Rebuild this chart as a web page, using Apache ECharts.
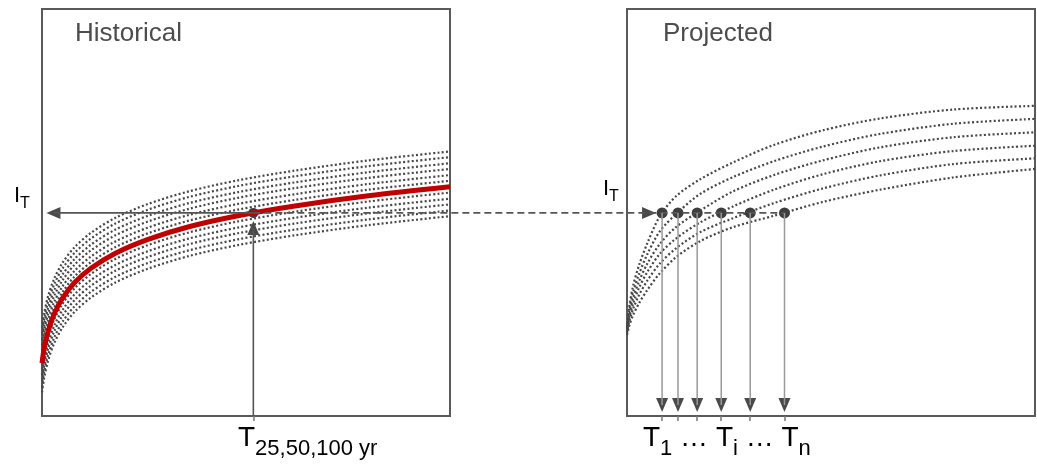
<!DOCTYPE html>
<html>
<head>
<meta charset="utf-8">
<title>Historical vs projected</title>
<script src="https://cdn.jsdelivr.net/npm/echarts@6/dist/echarts.min.js"></script>
<style>
  html, body { margin: 0; padding: 0; background: #fff; }
  #chart { width: 1037px; height: 465px; }
</style>
</head>
<body>
<div id="chart"></div>
<script>
// --- historical panel (return period 0-100 vs intensity 0-100) ---
var histX = [0, 0.5, 1.5, 3, 5, 8, 12, 18, 26, 36, 48, 62, 80, 100];
var histRed = [13.0, 16.4, 20.8, 25.1, 28.9, 32.8, 36.3, 40.0, 43.4, 46.5, 49.2, 51.6, 54.1, 56.3];
var histDotted = [
  [21.7, 25.1, 29.5, 33.8, 37.6, 41.5, 45.0, 48.7, 52.1, 55.2, 57.9, 60.3, 62.8, 65.0],
  [20.3, 23.7, 28.1, 32.4, 36.2, 40.1, 43.6, 47.3, 50.7, 53.8, 56.5, 58.9, 61.4, 63.6],
  [18.8, 22.2, 26.6, 30.9, 34.7, 38.6, 42.1, 45.8, 49.2, 52.3, 55.0, 57.4, 59.9, 62.1],
  [17.4, 20.8, 25.2, 29.5, 33.3, 37.2, 40.7, 44.4, 47.8, 50.9, 53.6, 56.0, 58.5, 60.7],
  [15.9, 19.3, 23.7, 28.0, 31.8, 35.7, 39.2, 42.9, 46.3, 49.4, 52.1, 54.5, 57.0, 59.2],
  [14.5, 17.9, 22.3, 26.6, 30.4, 34.3, 37.8, 41.5, 44.9, 48.0, 50.7, 53.1, 55.6, 57.8],
  [11.6, 15.0, 19.4, 23.7, 27.5, 31.4, 34.9, 38.6, 42.0, 45.1, 47.8, 50.2, 52.7, 54.9],
  [10.1, 13.5, 17.9, 22.2, 26.0, 29.9, 33.4, 37.1, 40.5, 43.6, 46.3, 48.7, 51.2, 53.4],
  [8.7, 12.1, 16.5, 20.8, 24.6, 28.5, 32.0, 35.7, 39.1, 42.2, 44.9, 47.3, 49.8, 52.0],
  [7.2, 10.6, 15.0, 19.3, 23.1, 27.0, 30.5, 34.2, 37.6, 40.7, 43.4, 45.8, 48.3, 50.5],
  [5.8, 9.2, 13.6, 17.9, 21.7, 25.6, 29.1, 32.8, 36.2, 39.3, 42.0, 44.4, 46.9, 49.1]
];
var histT = 51.8;   // T 25,50,100 yr
var levelI = 49.9;  // I_T

// --- projected panel ---
var projX = [0, 0.5, 1.5, 3, 5, 8, 12, 18, 26, 36, 48, 62, 80, 100];
var projDotted = [
  [21.6, 26.5, 32.0, 37.2, 42.5, 49.0, 54.0, 58.2, 62.3, 66.6, 70.2, 73.1, 75.3, 76.2],
  [21.3, 25.6, 30.4, 35.0, 39.8, 45.3, 49.6, 54.6, 58.7, 62.6, 66.2, 69.3, 71.8, 73.0],
  [21.0, 24.6, 28.9, 33.2, 37.5, 42.2, 46.4, 50.5, 55.2, 59.2, 62.8, 66.0, 68.5, 69.7],
  [20.7, 23.8, 27.6, 31.6, 35.4, 39.8, 43.6, 47.6, 51.5, 55.6, 59.4, 62.6, 65.1, 66.4],
  [20.3, 23.0, 26.3, 29.8, 33.3, 37.4, 41.2, 45.2, 48.6, 52.3, 55.9, 59.1, 61.9, 63.3],
  [19.9, 22.0, 24.8, 27.8, 31.0, 35.0, 39.0, 43.0, 46.4, 49.2, 52.6, 55.6, 58.6, 60.7]
];
var projT = [8.6, 12.5, 17.2, 23.1, 30.2, 38.6]; // T1 ... Ti ... Tn

// layout
var GRID_TOP = 9, GRID_H = 407, GRID_W = 408;
var LEFT_L = 42, RIGHT_L = 627, FULL_W = 993;
var shift = (RIGHT_L - LEFT_L) / GRID_W * 100;   // right panel origin in left-panel units
var fullMax = FULL_W / GRID_W * 100;             // overlay axis, same scale as the panels
var headLeftX = 2.8, headUpY = 46.2, headRightX = 5.4, headDownY = 2.7;

var ink = '#474747';
var dotStyle = { color: ink, width: 2.2, type: [2, 2.3] };

function zip(xs, ys) {
  return xs.map(function (x, i) { return [x, ys[i]]; });
}

var chartInstance = echarts.init(document.getElementById('chart'), null, { renderer: 'canvas' });

var series = [];
histDotted.forEach(function (arr) {
  series.push({
    type: 'line', xAxisIndex: 0, yAxisIndex: 0, data: zip(histX, arr),
    smooth: 0.3, symbol: 'none', silent: true, lineStyle: dotStyle
  });
});
series.push({
  type: 'line', xAxisIndex: 0, yAxisIndex: 0, data: zip(histX, histRed),
  smooth: 0.3, symbol: 'none', silent: true,
  lineStyle: { color: '#c00000', width: 5 }
});
projDotted.forEach(function (arr) {
  series.push({
    type: 'line', xAxisIndex: 1, yAxisIndex: 1, data: zip(projX, arr),
    smooth: 0.3, symbol: 'none', silent: true, lineStyle: dotStyle
  });
});
// arrow shafts
series.push({
  type: 'line', xAxisIndex: 0, yAxisIndex: 0, symbol: 'none', silent: true,
  data: [[histT, levelI], [headLeftX, levelI]],
  lineStyle: { color: '#555', width: 1.6 }
});
series.push({
  type: 'line', xAxisIndex: 0, yAxisIndex: 0, symbol: 'none', silent: true,
  data: [[histT, 0], [histT, headUpY]],
  lineStyle: { color: '#555', width: 1.6 }
});
// dashed connector, drawn on the overlay grid that spans both panels
series.push({
  type: 'line', xAxisIndex: 2, yAxisIndex: 2, symbol: 'none', silent: true,
  data: [[histT, levelI], [shift + projT[projT.length - 1], levelI]],
  lineStyle: { color: '#555', width: 1.6, type: [7, 4] }
});
projT.forEach(function (t) {
  series.push({
    type: 'line', xAxisIndex: 1, yAxisIndex: 1, symbol: 'none', silent: true,
    data: [[t, levelI], [t, headDownY]],
    lineStyle: { color: '#999', width: 1.5 }
  });
});
// arrow heads
function heads(xi, pts, rot) {
  return {
    type: 'scatter', xAxisIndex: xi, yAxisIndex: xi, data: pts, silent: true,
    symbol: 'triangle', symbolSize: [12, 14], symbolRotate: rot,
    itemStyle: { color: '#4a4a4a', opacity: 1 }
  };
}
series.push(heads(0, [[headLeftX, levelI]], 90));
series.push(heads(0, [[histT, headUpY]], 0));
series.push(heads(1, [[headRightX, levelI]], -90));
series.push(heads(1, projT.map(function (t) { return [t, headDownY]; }), 180));
// intersection points
series.push({
  type: 'scatter', xAxisIndex: 0, yAxisIndex: 0, data: [[histT, levelI]], silent: true,
  symbolSize: 10, itemStyle: { color: '#3d3d3d', opacity: 1 }
});
series.push({
  type: 'scatter', xAxisIndex: 1, yAxisIndex: 1, silent: true,
  data: projT.map(function (t) { return [t, levelI]; }),
  symbolSize: 11, itemStyle: { color: '#3d3d3d', opacity: 1 }
});

function xAxisFor(idx, ticks) {
  return {
    type: 'value', gridIndex: idx, min: 0, max: 100,
    axisLine: { show: false, onZero: false },
    splitLine: { show: false },
    axisLabel: { show: false },
    axisTick: { show: true, customValues: ticks, length: 5, lineStyle: { color: '#777', width: 1.5 } }
  };
}
function yAxisFor(idx) {
  return { type: 'value', gridIndex: idx, min: 0, max: 100, show: false };
}

var subRich = {
  t: { fontSize: 28, fontFamily: 'Liberation Sans', color: '#4d4d4d', lineHeight: 44 },
  s: { fontSize: 22, fontFamily: 'Liberation Sans', color: '#4d4d4d', lineHeight: 20, verticalAlign: 'bottom' }
};
var iRich = {
  i: { fontSize: 22, fontFamily: 'Liberation Sans', color: '#4d4d4d', lineHeight: 32 },
  s: { fontSize: 16, fontFamily: 'Liberation Sans', color: '#4d4d4d', lineHeight: 16, verticalAlign: 'bottom' }
};
function label(x, y, text, rich) {
  return { type: 'text', x: x, y: y, silent: true,
    style: { text: text, rich: rich, align: 'left', verticalAlign: 'top' } };
}

var option = {
  animation: false,
  backgroundColor: '#ffffff',
  grid: [
    { left: LEFT_L, top: GRID_TOP, width: GRID_W, height: GRID_H, show: true, borderColor: '#5a5a5a', borderWidth: 2 },
    { left: RIGHT_L, top: GRID_TOP, width: GRID_W, height: GRID_H, show: true, borderColor: '#5a5a5a', borderWidth: 2 },
    { left: LEFT_L, top: GRID_TOP, width: FULL_W, height: GRID_H, show: false }
  ],
  xAxis: [
    xAxisFor(0, [histT]),
    xAxisFor(1, projT),
    { type: 'value', gridIndex: 2, min: 0, max: fullMax, show: false }
  ],
  yAxis: [yAxisFor(0), yAxisFor(1), yAxisFor(2)],
  series: series,
  graphic: [
    { type: 'text', x: 75, y: 34, silent: true,
      style: { text: 'Historical', fontSize: 26, fontFamily: 'Liberation Sans', fill: '#4d4d4d', verticalAlign: 'middle' } },
    { type: 'text', x: 663, y: 34, silent: true,
      style: { text: 'Projected', fontSize: 26, fontFamily: 'Liberation Sans', fill: '#4d4d4d', verticalAlign: 'middle' } },
    label(14, 180, '{i|I}{s|T}', iRich),
    label(603, 173, '{i|I}{s|T}', iRich),
    label(238, 416, '{t|T}{s|25,50,100 yr}', subRich),
    label(643, 416, '{t|T}{s|1}{t| \u2026 T}{s|i}{t| \u2026 T}{s|n}', subRich)
  ]
};
chartInstance.setOption(option);
</script>
</body>
</html>
